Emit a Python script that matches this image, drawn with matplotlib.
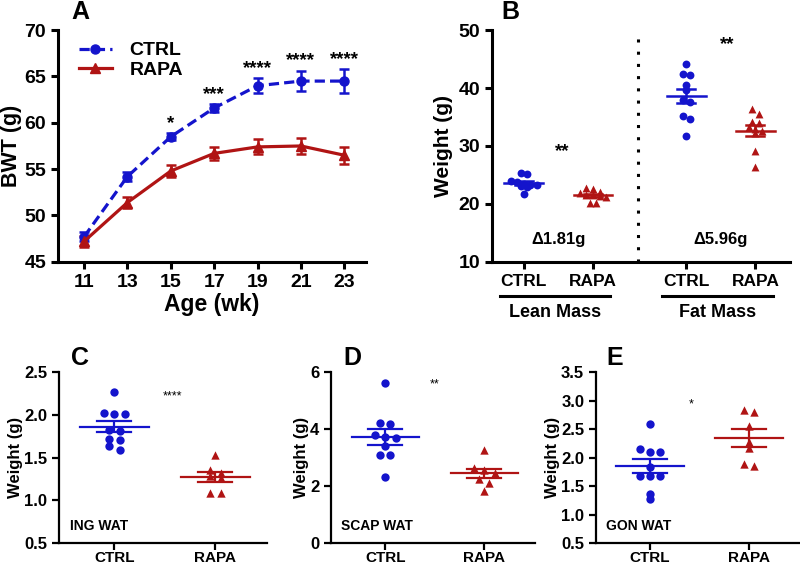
import numpy as np
import matplotlib
matplotlib.use('Agg')
import matplotlib.pyplot as plt
import matplotlib.transforms as mtransforms
from matplotlib.lines import Line2D

plt.rcParams['font.family'] = ['Liberation Sans', 'DejaVu Sans']
plt.rcParams['font.weight'] = 'bold'
plt.rcParams['axes.labelweight'] = 'bold'

BLUE = '#1414CC'
RED = '#B01414'

# panel A: body weight over time
weeks = [11, 13, 15, 17, 19, 21, 23]
ctrl_bwt = [47.7, 54.2, 58.5, 61.6, 64.0, 64.5, 64.5]
ctrl_sem = [0.5, 0.5, 0.4, 0.4, 0.8, 1.1, 1.3]
rapa_bwt = [47.2, 51.4, 54.8, 56.7, 57.4, 57.5, 56.5]
rapa_sem = [0.6, 0.6, 0.6, 0.7, 0.8, 0.9, 0.9]
stars_a = ['', '', '*', '***', '****', '****', '****']

# panel B: body composition
lean_ctrl = [25.4, 25.2, 23.9, 23.7, 23.5, 23.3, 23.2, 23.1, 23.0, 21.7]
lean_rapa = [22.7, 22.5, 22.0, 21.9, 21.6, 21.5, 21.3, 21.2, 20.2, 20.1]
fat_ctrl = [44.1, 42.5, 42.2, 40.6, 39.7, 38.0, 37.6, 35.1, 34.6, 31.8]
fat_rapa = [36.3, 35.6, 34.1, 34.0, 33.3, 33.0, 32.6, 32.2, 29.2, 26.3]
b_ticks = ['CTRL', 'RAPA', 'CTRL', 'RAPA']
b_groups = ['Lean Mass', 'Fat Mass']
b_deltas = ['\u03941.81g', '\u03945.96g']

# panels C-E: fat depots
ing_ctrl = [2.27, 2.02, 2.01, 2.01, 1.82, 1.81, 1.72, 1.71, 1.64, 1.59]
ing_rapa = [1.53, 1.35, 1.32, 1.28, 1.26, 1.08, 1.08]
scap_ctrl = [5.61, 4.20, 4.17, 3.78, 3.72, 3.70, 3.42, 3.09, 3.08, 2.33]
scap_rapa = [3.26, 2.62, 2.55, 2.47, 2.26, 2.11, 1.84]
gon_ctrl = [2.58, 2.15, 2.10, 2.10, 1.84, 1.68, 1.68, 1.68, 1.36, 1.28]
gon_rapa = [2.84, 2.80, 2.55, 2.28, 2.16, 1.89, 1.86]


def swarm(vals, step, thr):
    # simple row-based beeswarm offsets
    vals = np.asarray(vals, float)
    order = np.argsort(vals)[::-1]
    offs = np.zeros(len(vals))
    rows = []
    for i in order:
        if rows and abs(vals[rows[-1][0]] - vals[i]) < thr:
            rows[-1].append(i)
        else:
            rows.append([i])
    for r in rows:
        n = len(r)
        for k, i in enumerate(r):
            offs[i] = (k - (n - 1) / 2) * step
    return offs


def dotplot(ax, x, vals, color, marker, step, thr, ms, half_mean, half_sem, lw):
    vals = np.asarray(vals, float)
    ax.scatter(x + swarm(vals, step, thr), vals, s=ms, color=color, marker=marker,
               zorder=3, linewidths=0)
    m = vals.mean()
    se = vals.std(ddof=1) / np.sqrt(len(vals))
    ax.plot([x - half_mean, x + half_mean], [m, m], color=color, lw=lw, zorder=4)
    ax.errorbar([x], [m], yerr=[se], color=color, lw=lw, capsize=0, zorder=4)
    for yy in (m - se, m + se):
        ax.plot([x - half_sem, x + half_sem], [yy, yy], color=color, lw=lw, zorder=4)


def style(ax, lw, fs):
    for s in ['top', 'right']:
        ax.spines[s].set_visible(False)
    for s in ['left', 'bottom']:
        ax.spines[s].set_linewidth(lw)
    ax.tick_params(width=lw, length=5, labelsize=fs, direction='out')
    for lab in ax.get_xticklabels() + ax.get_yticklabels():
        lab.set_fontweight('bold')


fig = plt.figure(figsize=(8, 5.68), dpi=100)

# ---- A ----
axA = fig.add_axes([0.0725, 0.539, 0.385, 0.408])
axA.errorbar(weeks, ctrl_bwt, yerr=ctrl_sem, color=BLUE, marker='o', ms=6.5,
             lw=2.3, ls=(0, (3.2, 1.6)), capsize=3.5, capthick=1.8, elinewidth=1.8,
             zorder=3)
axA.errorbar(weeks, rapa_bwt, yerr=rapa_sem, color=RED, marker='^', ms=6.5,
             lw=2.3, capsize=3.5, capthick=1.8, elinewidth=1.8, zorder=3)
for w, m, s, st in zip(weeks, ctrl_bwt, ctrl_sem, stars_a):
    if st:
        axA.text(w, m + s + 0.15, st, ha='center', va='bottom', fontsize=13.5)
axA.set_xlim(9.8, 24.0)
axA.set_ylim(45, 70)
axA.set_xticks(weeks)
axA.set_yticks([45, 50, 55, 60, 65, 70])
axA.set_xlabel('Age (wk)', fontsize=16.5, labelpad=2)
axA.set_ylabel('BWT (g)', fontsize=15.5, labelpad=2)
style(axA, 2.2, 14)
handles = [Line2D([], [], color=BLUE, marker='o', ms=6.5, lw=2.3, ls=(0, (3.2, 1.6))),
           Line2D([], [], color=RED, marker='^', ms=6.5, lw=2.3)]
axA.legend(handles, ['CTRL', 'RAPA'], loc='upper left', bbox_to_anchor=(0.03, 1.0),
           frameon=False, prop={'size': 14, 'weight': 'bold'}, handlelength=1.7,
           handletextpad=0.9, borderaxespad=0.2, labelspacing=0.1)

# ---- B ----
axB = fig.add_axes([0.615, 0.539, 0.3725, 0.408])
bx = [0, 1, 2.35, 3.35]
b_sets = [(lean_ctrl, BLUE, 'o'), (lean_rapa, RED, '^'),
          (fat_ctrl, BLUE, 'o'), (fat_rapa, RED, '^')]
for x, (vals, c, mk) in zip(bx, b_sets):
    dotplot(axB, x, vals, c, mk, 0.095, 0.7, 32, 0.28, 0.13, 1.8)
axB.axvline(1.655, color='black', ls=(0, (1, 3)), lw=2.2)
axB.set_xlim(-0.46, 3.85)
axB.set_ylim(10, 50)
axB.set_yticks([10, 20, 30, 40, 50])
axB.set_xticks(bx)
axB.set_xticklabels(b_ticks)
axB.set_ylabel('Weight (g)', fontsize=15, labelpad=4)
style(axB, 2.2, 14)
axB.tick_params(axis='x', labelsize=12.5)
axB.text(0.55, 28.2, '**', ha='center', fontsize=13.5)
axB.text(2.94, 46.8, '**', ha='center', fontsize=13.5)
axB.text(0.5, 13.9, b_deltas[0], ha='center', va='center', fontsize=12)
axB.text(2.85, 13.9, b_deltas[1], ha='center', va='center', fontsize=12)
tr = mtransforms.blended_transform_factory(axB.transData, axB.transAxes)
for (x0, x1), g in zip([(-0.35, 1.25), (2.0, 3.6)], b_groups):
    axB.plot([x0, x1], [-0.147, -0.147], color='black', lw=2.2, transform=tr,
             clip_on=False)
    axB.text((x0 + x1) / 2, -0.218, g, ha='center', va='center', fontsize=13,
             transform=tr)

# ---- C, D, E ----
small = [
    ([0.074, 0.044, 0.26, 0.301], ing_ctrl, ing_rapa, (0.5, 2.5),
     [0.5, 1.0, 1.5, 2.0, 2.5], 'ING WAT', '****', 2.21, 0.58, 0.05),
    ([0.414, 0.044, 0.255, 0.301], scap_ctrl, scap_rapa, (0, 6),
     [0, 2, 4, 6], 'SCAP WAT', '**', 5.55, 0.5, 0.15),
    ([0.745, 0.044, 0.255, 0.301], gon_ctrl, gon_rapa, (0.5, 3.5),
     [0.5, 1.0, 1.5, 2.0, 2.5, 3.0, 3.5], 'GON WAT', '*', 2.93, 0.42, 0.075),
]
for rect, cv, rv, ylim, yt, name, st, sty, stx, thr in small:
    ax = fig.add_axes(rect)
    dotplot(ax, 0, cv, BLUE, 'o', 0.105, thr, 36, 0.34, 0.17, 1.6)
    dotplot(ax, 1, rv, RED, '^', 0.105, thr, 36, 0.34, 0.17, 1.6)
    ax.set_xlim(-0.545, 1.515)
    ax.set_ylim(*ylim)
    ax.set_yticks(yt)
    ax.set_xticks([0, 1])
    ax.set_xticklabels(['CTRL', 'RAPA'])
    ax.set_ylabel('Weight (g)', fontsize=12, labelpad=1)
    style(ax, 1.6, 12)
    ax.tick_params(axis='x', labelsize=11, pad=1)
    ax.text(stx, sty, st, ha='center', va='center', fontsize=9, fontweight='normal')
    ax.text(0.05, 0.1, name, transform=ax.transAxes, ha='left', va='center',
            fontsize=10)

# panel letters
for lbl, px, py in [('A', 80, 12), ('B', 510, 12), ('C', 80, 358),
                    ('D', 352, 358), ('E', 615, 358)]:
    fig.text(px / 800, 1 - py / 568, lbl, ha='center', va='center',
             fontsize=18, fontweight='bold')

fig.savefig('out.png', dpi=100)
